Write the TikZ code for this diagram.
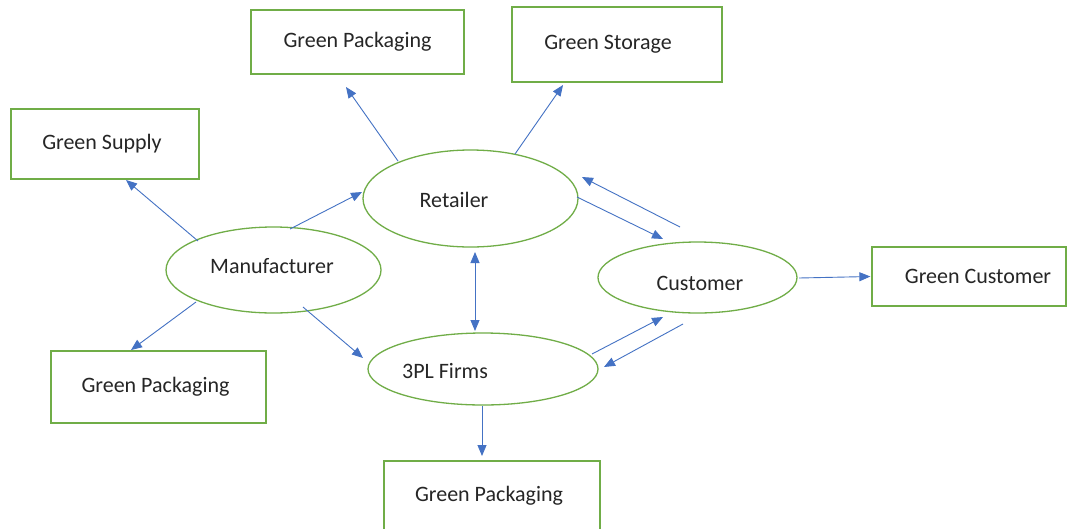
\documentclass[tikz,border=0pt]{standalone}
\usepackage{fontspec}
\setmainfont{Carlito}
\usetikzlibrary{arrows.meta,shapes.geometric,calc}
\definecolor{boxgreen}{HTML}{70AD47}
\definecolor{arrowblue}{HTML}{4472C4}
\begin{document}
\begin{tikzpicture}[x=1pt,y=-1pt,
  txt/.style={font=\fontsize{22}{26}\selectfont,text=black!85},
  box/.style={draw=boxgreen,line width=1.3pt,rectangle,inner sep=0pt,txt},
  oval/.style={draw=boxgreen,line width=1.3pt,ellipse,inner sep=0pt},
  flow/.style={draw=arrowblue,line width=0.9pt,-{Triangle[length=11pt,width=9pt]}},
  flowboth/.style={draw=arrowblue,line width=0.9pt,{Triangle[length=11pt,width=9pt]}-{Triangle[length=11pt,width=9pt]}}]
\useasboundingbox (0,0) rectangle (1071,528);
\fill[white] (0,0) rectangle (1071,528);
% boxes
\node[box,minimum width=213pt,minimum height=64pt,label={[txt,xshift=0pt]center:Green Packaging}] (gpTop) at (357.5,42) {};
\node[box,minimum width=210pt,minimum height=75pt,label={[txt,xshift=-9pt]center:Green Storage}] (gstor) at (617,44.5) {};
\node[box,minimum width=188pt,minimum height=70pt,label={[txt,xshift=-3pt]center:Green Supply}] (gsup) at (105,144) {};
\node[box,minimum width=215pt,minimum height=72pt,label={[txt,xshift=-3pt]center:Green Packaging}] (gpLeft) at (158.5,387) {};
\node[box,minimum width=216pt,minimum height=70pt,label={[txt,xshift=-3pt]center:Green Packaging}] (gpBot) at (492,496) {};
\node[box,minimum width=194pt,minimum height=59pt,label={[txt,xshift=9pt]center:Green Customer}] (gcus) at (969,276.5) {};
% ellipses
\node[oval,minimum width=215pt,minimum height=97pt,label={[txt,xshift=-16.5pt,yshift=-1.5pt]center:Retailer}] (ret) at (470.5,198.5) {};
\node[oval,minimum width=215pt,minimum height=86pt,label={[txt,xshift=-1.5pt,yshift=4pt]center:Manufacturer}] (man) at (273.5,270) {};
\node[oval,minimum width=199pt,minimum height=71pt,label={[txt,xshift=2.5pt,yshift=-5.5pt]center:Customer}] (cus) at (697.5,277.5) {};
\node[oval,minimum width=230pt,minimum height=72pt,label={[txt,xshift=-38pt,yshift=-2pt]center:3PL Firms}] (tpl) at (483,369) {};
% connectors
\draw[flow] ($(ret)+(-72.5,-37.5)$) -- ($(gpTop)+(-11.5,45)$);
\draw[flow] ($(ret)+(44.5,-44.5)$) -- ($(gstor)+(-54,40.5)$);
\draw[flow] ($(man)+(-75.5,-29)$) -- ($(gsup)+(21,36)$);
\draw[flow] ($(man)+(16.5,-41)$) -- ($(ret)+(-108.5,-6.5)$);
\draw[flow] ($(man)+(-77.5,32)$) -- ($(gpLeft)+(-27.5,-37)$);
\draw[flow] ($(man)+(29.5,37)$) -- ($(tpl)+(-120,-11)$);
\draw[flowboth] ($(ret)+(4.5,53.5)$) -- ($(tpl)+(-8,-38)$);
\draw[flow] ($(ret)+(106.5,-1.5)$) -- ($(cus)+(-34.5,-38.5)$);
\draw[flow] ($(cus)+(-17.5,-50.5)$) -- ($(ret)+(111.5,-21.5)$);
\draw[flow] ($(tpl)+(109,-15)$) -- ($(cus)+(-34.5,39.5)$);
\draw[flow] ($(cus)+(-14.5,46.5)$) -- ($(tpl)+(121,-2)$);
\draw[flow] ($(cus)+(101.5,0.5)$) -- ($(gcus.west)+(-1,0)$);
\draw[flow] ($(tpl)+(-1,37)$) -- ($(gpBot)+(-10,-40)$);
\end{tikzpicture}
\end{document}
